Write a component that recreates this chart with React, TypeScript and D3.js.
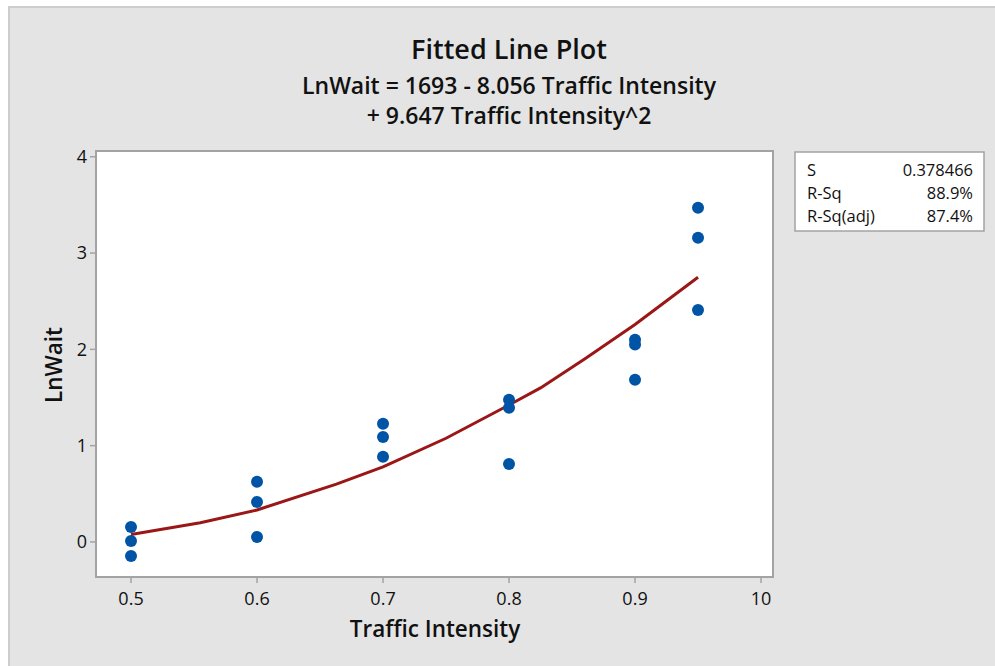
import React from 'react';
import * as d3 from 'd3';

const W = 995;
const H = 666;

const intensity = [0.5, 0.5, 0.5, 0.6, 0.6, 0.6, 0.7, 0.7, 0.7, 0.8, 0.8, 0.8, 0.9, 0.9, 0.9, 0.95, 0.95, 0.95];
const lnWait = [0.156, 0.01, -0.146, 0.624, 0.416, 0.052, 1.227, 1.09, 0.884, 1.476, 1.393, 0.81, 2.1, 2.05, 1.684, 3.47, 3.16, 2.41];

// fitted curve, read as a polyline
const fitX = [0.5, 0.555, 0.6, 0.663, 0.7, 0.75, 0.8, 0.825, 0.86, 0.9, 0.95];
const fitY = [0.077, 0.2, 0.332, 0.6, 0.78, 1.077, 1.422, 1.6, 1.9, 2.258, 2.749];

const xTicks = [0.5, 0.6, 0.7, 0.8, 0.9, 1.0];
const xTickLabels = ['0.5', '0.6', '0.7', '0.8', '0.9', '10'];
const yTicks = [0, 1, 2, 3, 4];

const statNames = ['S', 'R-Sq', 'R-Sq(adj)'];
const statValues = ['0.378466', '88.9%', '87.4%'];

const title = 'Fitted Line Plot';
const subtitle1 = 'LnWait = 1693 - 8.056 Traffic Intensity';
const subtitle2 = '+ 9.647 Traffic Intensity^2';

const plot = { l: 96, r: 773, t: 151, b: 577 };
const FONT = '"Open Sans", "Noto Sans", sans-serif';
const frameColor = '#a3a3a3';

const App = () => {
  const x = d3.scaleLinear().domain([0.4722, 1.0095]).range([plot.l, plot.r]);
  const y = d3.scaleLinear().domain([-0.364, 4.06]).range([plot.b, plot.t]);

  const line = d3
    .line<number>()
    .x((d, i) => x(fitX[i]))
    .y((d) => y(d));

  return (
    <svg
      width={W}
      height={H}
      viewBox={`0 0 ${W} ${H}`}
      style={{ position: 'absolute', left: 0, top: 0, fontFamily: FONT }}
    >
      <rect x={0} y={0} width={W} height={H} fill="#fff" />
      <rect x={9} y={7} width={W + 20} height={H + 20} fill="#e4e4e4" stroke="#cdcdcd" strokeWidth={2} />

      {/* titles */}
      <text x={509} y={59} textAnchor="middle" fontSize={27} fontWeight={600} fill="#111">
        {title}
      </text>
      <text x={509} y={94} textAnchor="middle" fontSize={23} fontWeight={600} fill="#111">
        {subtitle1}
      </text>
      <text x={509} y={124} textAnchor="middle" fontSize={23} fontWeight={600} fill="#111">
        {subtitle2}
      </text>

      {/* plot area */}
      <rect
        x={plot.l}
        y={plot.t}
        width={plot.r - plot.l}
        height={plot.b - plot.t}
        fill="#fff"
        stroke={frameColor}
        strokeWidth={2}
      />

      {/* y axis */}
      {yTicks.map((t) => (
        <g key={`y-${t}`}>
          <line x1={plot.l - 6} x2={plot.l} y1={y(t)} y2={y(t)} stroke={frameColor} strokeWidth={1.5} />
          <text x={plot.l - 9} y={y(t)} dy="0.35em" textAnchor="end" fontSize={18} fill="#111">
            {t}
          </text>
        </g>
      ))}

      {/* x axis */}
      {xTicks.map((t, i) => (
        <g key={`x-${t}`}>
          <line x1={x(t)} x2={x(t)} y1={plot.b} y2={plot.b + 6} stroke={frameColor} strokeWidth={1.5} />
          <text x={x(t)} y={605} textAnchor="middle" fontSize={18} fill="#111">
            {xTickLabels[i]}
          </text>
        </g>
      ))}

      <text x={435} y={637} textAnchor="middle" fontSize={22.5} fontWeight={600} fill="#111">
        Traffic Intensity
      </text>
      <text
        transform={`translate(62, 365) rotate(-90)`}
        textAnchor="middle"
        fontSize={22.5}
        fontWeight={600}
        fill="#111"
      >
        LnWait
      </text>

      {/* fitted line */}
      <path d={line(fitY) || ''} fill="none" stroke="#9b1616" strokeWidth={3} />

      {/* points */}
      {intensity.map((v, i) => (
        <circle key={`p-${i}`} cx={x(v)} cy={y(lnWait[i])} r={6} fill="#0054a6" />
      ))}

      {/* stats box */}
      <rect x={795} y={152} width={189} height={79} fill="#fff" stroke={frameColor} strokeWidth={1.5} />
      {statNames.map((n, i) => (
        <g key={n}>
          <text x={807} y={176 + i * 23} fontSize={16.5} fill="#111">
            {n}
          </text>
          <text x={973} y={176 + i * 23} textAnchor="end" fontSize={16.5} fill="#111">
            {statValues[i]}
          </text>
        </g>
      ))}
    </svg>
  );
};

export default App;
